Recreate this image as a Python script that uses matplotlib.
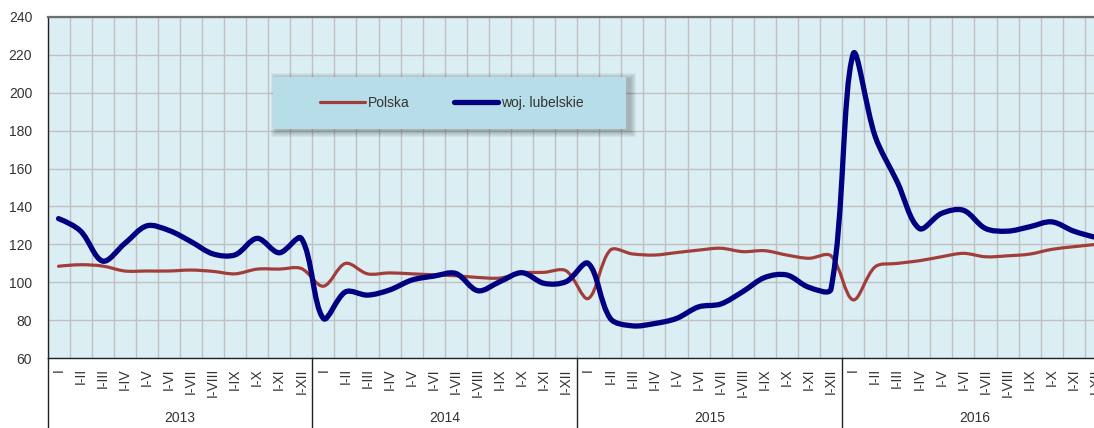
"""Monthly index chart: Polska vs woj. lubelskie, 2013-2016 (smoothed Excel-style lines)."""

from __future__ import annotations

import matplotlib

matplotlib.use("Agg")

import matplotlib.pyplot as plt
import numpy as np
from matplotlib.lines import Line2D
from matplotlib.patches import PathPatch, Rectangle
from matplotlib.path import Path

YEARS = ["2013", "2014", "2015", "2016"]
MONTH_LABELS = ["I", "I-II", "I-III", "I-IV", "I-V", "I-VI",
                "I-VII", "I-VIII", "I-IX", "I-X", "I-XI", "I-XII"]

POLSKA = [
    108.5, 109.3, 108.6, 106.0, 106.0, 106.0, 106.5, 105.8, 104.5, 107.0, 107.0, 107.3,
    98.0, 110.0, 104.5, 105.0, 104.5, 104.0, 103.5, 102.6, 102.3, 105.0, 105.3, 106.1,
    91.5, 117.0, 115.0, 114.4, 115.7, 117.0, 118.0, 116.2, 116.7, 114.4, 112.7, 114.0,
    90.8, 108.2, 110.0, 111.4, 113.5, 115.3, 113.5, 114.0, 114.9, 117.4, 118.8, 120.0,
]
LUBELSKIE = [
    133.6, 127.0, 111.2, 120.5, 129.8, 127.4, 121.5, 115.0, 114.5, 123.2, 115.6, 123.2,
    81.0, 95.0, 93.3, 96.0, 101.2, 103.3, 104.7, 95.6, 100.4, 105.1, 99.5, 100.4,
    110.0, 81.0, 77.1, 78.3, 81.0, 87.1, 88.6, 95.1, 102.6, 103.9, 97.4, 96.5,
    220.2, 177.0, 153.0, 128.4, 136.3, 138.0, 128.4, 127.0, 129.3, 131.9, 127.0, 123.7,
]

SERIES = [
    ("Polska", POLSKA, "#a23e3a", 2.3),
    ("woj. lubelskie", LUBELSKIE, "#000080", 3.8),
]

W, H, DPI = 1094, 428, 100
MONTH_PX = 22.07          # width of one category in pixels
UNIT_PX = 341.6 / 180     # pixels per index point
TEXT = "#333333"


def _smooth_path(values) -> Path:
    """Bezier path through the points; handles scaled by neighbouring segment lengths
    (measured on screen), which keeps the curve flat next to a sudden jump."""
    scale = np.array([MONTH_PX, UNIT_PX])
    pts = np.column_stack([np.arange(len(values)), np.asarray(values, float)]) * scale
    n = len(pts)
    before = pts.copy()
    after = pts.copy()
    for i in range(1, n - 1):
        tangent = pts[i + 1] - pts[i - 1]
        d1 = np.hypot(*(pts[i] - pts[i - 1]))
        d2 = np.hypot(*(pts[i + 1] - pts[i]))
        before[i] = pts[i] - tangent * d1 / (d1 + d2) / 3
        after[i] = pts[i] + tangent * d2 / (d1 + d2) / 3
    after[0] = pts[0] + (before[1] - pts[0]) / 2
    before[-1] = pts[-1] + (after[-2] - pts[-1]) / 2

    verts = [pts[0]]
    codes = [Path.MOVETO]
    for i in range(n - 1):
        verts += [after[i], before[i + 1], pts[i + 1]]
        codes += [Path.CURVE4] * 3
    return Path(np.array(verts) / scale, codes)


def _legend_box(fig, x0, y0, x1, y1):
    """Light blue box with a soft shadow, pixel coords from the top-left."""
    fx = lambda px: px / W
    fy = lambda py: 1 - py / H
    for r in range(6, 0, -1):
        fig.patches.append(Rectangle(
            (fx(x0 + 4 - r), fy(y1 + 2 + r)), fx(x1 - x0 + 2 * r), (y1 - y0 + 2 * r) / H,
            transform=fig.transFigure, facecolor="black", edgecolor="none",
            alpha=0.045, zorder=5))
    fig.patches.append(Rectangle(
        (fx(x0), fy(y1)), fx(x1 - x0), (y1 - y0) / H,
        transform=fig.transFigure, facecolor="#b7dde8", edgecolor="none", zorder=6))


def main() -> None:
    plt.rcParams["font.family"] = ["Liberation Sans", "DejaVu Sans"]

    fig = plt.figure(figsize=(W / DPI, H / DPI), dpi=DPI)
    fig.patch.set_facecolor("white")

    n = len(YEARS) * len(MONTH_LABELS)
    ax = fig.add_axes([47.5 / W, (H - 358.3) / H, n * MONTH_PX / W, 341.6 / H])
    ax.set_facecolor("#dbeef4")

    for name, values, color, lw in SERIES:
        ax.add_patch(PathPatch(_smooth_path(values), fill=False, edgecolor=color,
                               linewidth=lw, capstyle="round", joinstyle="round", zorder=3))

    ax.set_xlim(-0.5, n - 0.5)
    ax.set_ylim(60, 240)
    ax.set_yticks(np.arange(60, 241, 20))
    ax.set_xticks(np.arange(n))
    ax.set_xticklabels(MONTH_LABELS * len(YEARS), rotation=90, va="top", ha="center")
    ax.set_xticks(np.arange(-0.5, n, 1), minor=True)
    ax.tick_params(axis="both", which="both", length=0, labelsize=10, colors=TEXT)
    ax.tick_params(axis="x", which="major", pad=7)
    ax.tick_params(axis="y", pad=11)

    ax.grid(axis="y", which="major", color="#c0c0c0", linewidth=1.0)
    ax.grid(axis="x", which="minor", color="#c0c0c0", linewidth=1.0)
    ax.set_axisbelow(True)

    ax.spines["top"].set_color("#6e6e6e")
    ax.spines["top"].set_linewidth(1.6)
    ax.spines["right"].set_visible(False)
    for side in ("left", "bottom"):
        ax.spines[side].set_color("#222222")
        ax.spines[side].set_linewidth(1.0)

    # year separators below the axis and year captions
    drop = -(H - 358.3) / 341.6
    trans = ax.get_xaxis_transform()
    for k in range(len(YEARS) + 1):
        xb = k * len(MONTH_LABELS) - 0.5
        ax.add_line(Line2D([xb, xb], [0, drop], transform=trans, color="#222222",
                           linewidth=1.0, clip_on=False))
    for k, year in enumerate(YEARS):
        xc = k * len(MONTH_LABELS) + (len(MONTH_LABELS) - 1) / 2
        ax.text(xc, -(418 - 358.3) / 341.6, year, transform=trans, ha="center",
                va="center", fontsize=10, color=TEXT)

    _legend_box(fig, 273.3, 76.7, 625.7, 129.0)
    handles = [Line2D([], [], color=c, linewidth=lw, solid_capstyle="round")
               for _, _, c, lw in SERIES]
    leg = fig.legend(handles, [s[0] for s in SERIES], loc="center",
                     bbox_to_anchor=(452 / W, 1 - 103 / H), ncol=2, frameon=False,
                     fontsize=10, handlelength=3.2, handletextpad=0.2,
                     columnspacing=3.2, borderpad=0)
    leg.set_zorder(7)
    for t in leg.get_texts():
        t.set_color(TEXT)

    fig.savefig("out.png", dpi=DPI, facecolor="white")
    plt.close(fig)


if __name__ == "__main__":
    main()
